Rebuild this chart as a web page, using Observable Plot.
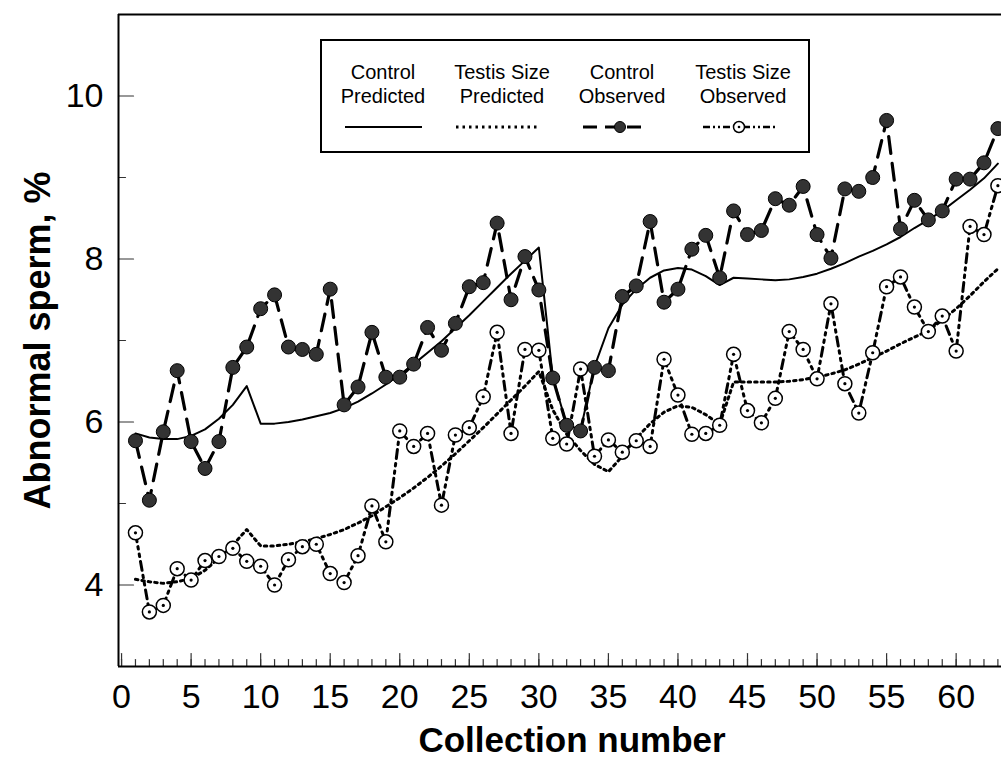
<!DOCTYPE html>
<html><head><meta charset="utf-8">
<script src="https://cdn.jsdelivr.net/npm/d3@7"></script>
<script src="https://cdn.jsdelivr.net/npm/@observablehq/plot@0.6"></script>
<style>
html,body{margin:0;padding:0;background:#fff;overflow:hidden}
#wrap{position:relative;width:1001px;height:762px}
</style></head><body><div id="wrap"></div>
<script>
// Collection numbers
const collection = d3.range(1, 64);
// Observed and predicted abnormal sperm (%)
const controlObserved = [5.77,5.04,5.88,6.63,5.76,5.43,5.76,6.67,6.92,7.39,7.56,6.92,6.89,6.83,7.63,6.21,6.43,7.10,6.55,6.55,6.71,7.16,6.88,7.21,7.66,7.71,8.44,7.50,8.03,7.62,6.54,5.96,5.89,6.67,6.63,7.54,7.67,8.46,7.47,7.63,8.12,8.29,7.77,8.59,8.30,8.35,8.74,8.66,8.89,8.30,8.01,8.86,8.83,9.00,9.70,8.37,8.72,8.48,8.59,8.98,8.98,9.18,9.60];
const testisObserved = [4.64,3.67,3.75,4.20,4.06,4.30,4.35,4.45,4.29,4.23,4.00,4.31,4.47,4.50,4.14,4.03,4.36,4.97,4.53,5.89,5.70,5.86,4.98,5.84,5.93,6.31,7.10,5.86,6.89,6.88,5.80,5.73,6.65,5.58,5.78,5.63,5.77,5.70,6.77,6.33,5.85,5.86,5.96,6.83,6.14,5.99,6.29,7.11,6.89,6.53,7.45,6.47,6.11,6.85,7.66,7.78,7.41,7.11,7.30,6.87,8.40,8.30,8.90];
const controlPredicted = [5.86,5.81,5.79,5.79,5.83,5.91,6.04,6.21,6.44,5.98,5.98,6.00,6.03,6.07,6.11,6.17,6.25,6.35,6.46,6.58,6.71,6.85,6.99,7.15,7.31,7.48,7.65,7.82,7.98,8.14,6.55,5.97,5.90,6.68,7.15,7.44,7.63,7.77,7.86,7.89,7.87,7.79,7.68,7.77,7.76,7.75,7.74,7.75,7.78,7.82,7.88,7.95,8.03,8.10,8.18,8.27,8.38,8.48,8.59,8.72,8.85,8.99,9.17];
const testisPredicted = [4.07,4.04,4.02,4.04,4.08,4.18,4.33,4.49,4.68,4.48,4.48,4.50,4.53,4.57,4.62,4.68,4.76,4.85,4.96,5.07,5.19,5.32,5.46,5.61,5.77,5.93,6.10,6.27,6.44,6.62,6.15,5.85,5.65,5.48,5.39,5.58,5.80,5.98,6.12,6.20,6.18,6.09,5.97,6.49,6.49,6.49,6.49,6.50,6.52,6.55,6.59,6.64,6.71,6.79,6.87,6.96,7.04,7.12,7.25,7.39,7.55,7.72,7.88];
// Ticks
const xTicksMajor = [0,5,10,15,20,25,30,35,40,45,50,55,60];
const xTicksMinor = d3.range(0, 64);
const yTicksMajor = [4,6,8,10];
const yTicksMinor = [3,5,7,9,11];
const xDomain = [-0.22, 63.26];
const yDomain = [3, 11];
// Legend text
const legendTop = ["Control","Testis Size","Control","Testis Size"];
const legendBottom = ["Predicted","Predicted","Observed","Observed"];
const xTitle = "Collection number";
const yTitle = "Abnormal sperm, %";

const rows = vals => collection.map((c, i) => ({x: c, y: vals[i]}));
const font = "'Liberation Sans', Arial, Helvetica, sans-serif";
const tickStroke = "#333";
// straight tick shape for vector marks (drawn from anchor point in the vector's direction)
const tickShape = {draw(ctx, l) { ctx.moveTo(0, 0); ctx.lineTo(0, -l); }};

const chart = Plot.plot({
  width: 1001, height: 762,
  marginLeft: 118, marginRight: 0, marginTop: 14, marginBottom: 96,
  style: {fontFamily: font, background: "#fff", color: "#000"},
  x: {domain: xDomain},
  y: {domain: yDomain},
  marks: [
    Plot.axisX({ticks: xTicksMajor, tickSize: 0, tickPadding: 17, fontSize: 34, label: null}),
    Plot.axisY({ticks: yTicksMajor, tickSize: 0, tickPadding: 15, fontSize: 34, label: null}),
    Plot.vector(xTicksMinor, {x: d => d, frameAnchor: "bottom", length: 7, rotate: 0, anchor: "start", shape: tickShape, stroke: tickStroke, strokeWidth: 1.2}),
    Plot.vector(xTicksMajor, {x: d => d, frameAnchor: "bottom", length: 13, rotate: 0, anchor: "start", shape: tickShape, stroke: tickStroke, strokeWidth: 1.2}),
    Plot.vector(yTicksMinor, {y: d => d, frameAnchor: "left", length: 7, rotate: 90, anchor: "start", shape: tickShape, stroke: tickStroke, strokeWidth: 1.2}),
    Plot.vector(yTicksMajor, {y: d => d, frameAnchor: "left", length: 15, rotate: 90, anchor: "start", shape: tickShape, stroke: tickStroke, strokeWidth: 1.2}),
    Plot.ruleY(yDomain, {stroke: "#000", strokeWidth: 2}),
    Plot.ruleX([xDomain[0]], {stroke: "#000", strokeWidth: 2}),
    Plot.line(rows(controlPredicted), {x: "x", y: "y", stroke: "#000", strokeWidth: 2}),
    Plot.line(rows(testisPredicted), {x: "x", y: "y", stroke: "#000", strokeWidth: 3, strokeDasharray: "2.5,4"}),
    Plot.line(rows(controlObserved), {x: "x", y: "y", stroke: "#000", strokeWidth: 3.2, strokeDasharray: "17,10"}),
    Plot.line(rows(testisObserved), {x: "x", y: "y", stroke: "#000", strokeWidth: 3, strokeDasharray: "9,5,2.5,5,2.5,5"}),
    Plot.dot(rows(controlObserved), {x: "x", y: "y", r: 7, fill: "#333", stroke: "#000", strokeWidth: 1}),
    Plot.dot(rows(testisObserved), {x: "x", y: "y", r: 7, fill: "#fff", stroke: "#000", strokeWidth: 1.5}),
    Plot.dot(rows(testisObserved), {x: "x", y: "y", r: 1.6, fill: "#000"}),
    Plot.text([xTitle], {frameAnchor: "bottom", dx: 12, dy: 74, fontSize: 35, fontWeight: "bold", lineAnchor: "middle"}),
    Plot.text([yTitle], {frameAnchor: "left", dx: -80, rotate: -90, textAnchor: "middle", fontSize: 36, fontWeight: "bold", lineAnchor: "middle"})
  ]
});
const wrap = document.getElementById("wrap");
wrap.appendChild(chart);

// Legend box drawn over the plot area
const lg = d3.create("svg").attr("width", 490).attr("height", 114)
  .style("position", "absolute").style("left", "320px").style("top", "39px")
  .style("font-family", font);
lg.append("rect").attr("x", 1).attr("y", 1).attr("width", 488).attr("height", 112)
  .attr("fill", "#fff").attr("stroke", "#000").attr("stroke-width", 2);
const colX = [63, 182, 302, 423];
legendTop.forEach((t, i) => lg.append("text").attr("x", colX[i]).attr("y", 33).attr("dy", "0.35em")
  .attr("text-anchor", "middle").attr("font-size", 20).text(t));
legendBottom.forEach((t, i) => lg.append("text").attr("x", colX[i]).attr("y", 57).attr("dy", "0.35em")
  .attr("text-anchor", "middle").attr("font-size", 20).text(t));
const sy = 88;
lg.append("line").attr("x1", 25).attr("x2", 102).attr("y1", sy).attr("y2", sy).attr("stroke", "#000").attr("stroke-width", 2);
lg.append("line").attr("x1", 136).attr("x2", 217).attr("y1", sy).attr("y2", sy).attr("stroke", "#000").attr("stroke-width", 3).attr("stroke-dasharray", "2.5,4");
lg.append("line").attr("x1", 263).attr("x2", 323).attr("y1", sy).attr("y2", sy).attr("stroke", "#000").attr("stroke-width", 3).attr("stroke-dasharray", "14,8");
lg.append("circle").attr("cx", 300).attr("cy", sy).attr("r", 5.5).attr("fill", "#333").attr("stroke", "#000");
lg.append("line").attr("x1", 383).attr("x2", 455).attr("y1", sy).attr("y2", sy).attr("stroke", "#000").attr("stroke-width", 2.5).attr("stroke-dasharray", "7,3,2,3,2,3");
lg.append("circle").attr("cx", 419).attr("cy", sy).attr("r", 5.5).attr("fill", "#fff").attr("stroke", "#000").attr("stroke-width", 1.5);
lg.append("circle").attr("cx", 419).attr("cy", sy).attr("r", 1.3).attr("fill", "#000");
wrap.appendChild(lg.node());
</script></body></html>
